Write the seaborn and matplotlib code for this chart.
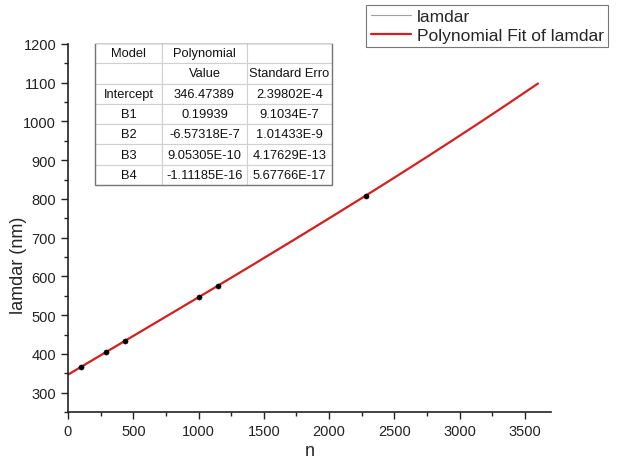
import numpy as np
import pandas as pd
import matplotlib
matplotlib.use("Agg")
import matplotlib.pyplot as plt
from matplotlib.ticker import MultipleLocator
from matplotlib.patches import Rectangle
import seaborn as sns

# measured points
n_vals = [97, 291, 439, 1000, 1150, 2280]
lamdar_vals = [365.8, 404.5, 434.0, 546.1, 576.3, 808.4]

# polynomial fit result (Intercept, B1..B4)
coef_names = ["Intercept", "B1", "B2", "B3", "B4"]
coef_values = [346.47389, 0.19939, -6.57318e-7, 9.05305e-10, -1.11185e-16]
coef_text = ["346.47389", "0.19939", "-6.57318E-7", "9.05305E-10", "-1.11185E-16"]
coef_err = ["2.39802E-4", "9.1034E-7", "1.01433E-9", "4.17629E-13", "5.67766E-17"]
fit_range = [0, 3600]

sns.set_style("ticks")
plt.rcParams["font.family"] = ["Liberation Sans", "DejaVu Sans"]

df = pd.DataFrame({"n": n_vals, "lamdar": lamdar_vals})
n_fit = np.linspace(fit_range[0], fit_range[1], 300)
fit_df = pd.DataFrame({"n": n_fit, "lamdar": np.polyval(coef_values[::-1], n_fit)})

fig = plt.figure(figsize=(6.19, 4.64), dpi=100)
ax = fig.add_axes([68 / 619, 51 / 464, 483 / 619, 368 / 464])

sns.lineplot(data=df, x="n", y="lamdar", ax=ax, color="#a0a0a0", lw=0.8, label="lamdar")
sns.lineplot(data=fit_df, x="n", y="lamdar", ax=ax, color="#d62020", lw=1.6,
             label="Polynomial Fit of lamdar")
sns.scatterplot(data=df, x="n", y="lamdar", ax=ax, color="black", s=14,
                edgecolor="black", zorder=5, legend=False)

ax.set_xlim(0, 3700)
ax.set_ylim(250, 1200)
ax.xaxis.set_major_locator(MultipleLocator(500))
ax.xaxis.set_minor_locator(MultipleLocator(250))
ax.yaxis.set_major_locator(MultipleLocator(100))
ax.yaxis.set_minor_locator(MultipleLocator(50))
ax.set_yticks([300, 400, 500, 600, 700, 800, 900, 1000, 1100, 1200])
ax.tick_params(which="major", direction="out", length=5, width=1, labelsize=10.5,
               colors="#222222")
ax.tick_params(which="minor", direction="out", length=3, width=1, colors="#222222")
for s in ["top", "right"]:
    ax.spines[s].set_visible(False)
for s in ["left", "bottom"]:
    ax.spines[s].set_color("#222222")
    ax.spines[s].set_linewidth(1.2)
ax.set_xlabel("n", fontsize=13, labelpad=3)
ax.set_ylabel("lamdar (nm)", fontsize=13)
ax.yaxis.set_label_coords(-0.085, 0.40)

handles, labels = ax.get_legend_handles_labels()
ax.get_legend().remove()
leg = fig.legend(handles, labels, loc="upper right", bbox_to_anchor=(608 / 619, 1 - 6 / 464),
                 fontsize=12.5, frameon=True, fancybox=False, handlelength=2.3,
                 borderpad=0.25, labelspacing=0.2, handletextpad=0.35, borderaxespad=0)
leg.get_frame().set_edgecolor("#555555")
leg.get_frame().set_linewidth(0.8)

# parameter table
rows = [["Model", "Polynomial", ""], ["", "Value", "Standard Erro"]]
for name, val, err in zip(coef_names, coef_text, coef_err):
    rows.append([name, val, err])

tab = ax.table(cellText=rows, cellLoc="center", colWidths=[67, 85, 85],
               bbox=[27 / 483, 0.617, 237 / 483, 142 / 368])
tab.auto_set_font_size(False)
tab.set_fontsize(9.3)
for (r, c), cell in tab.get_celld().items():
    cell.set_edgecolor("#d0d0d0")
    cell.set_linewidth(0.8)
    cell.set_facecolor("white")
    cell.get_text().set_color("#111111")
tab.set_zorder(6)
ax.add_patch(Rectangle((27 / 483, 0.617), 237 / 483, 142 / 368, transform=ax.transAxes,
                       fill=False, edgecolor="#777777", lw=1.0, zorder=7))

fig.savefig("out.png", dpi=100)
